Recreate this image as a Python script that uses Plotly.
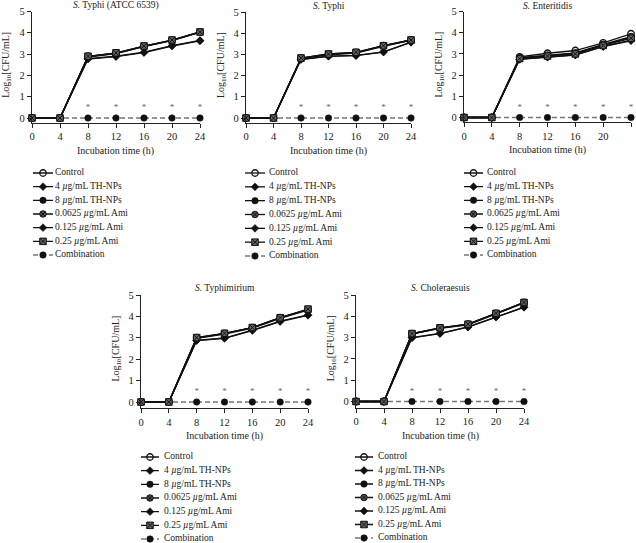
import plotly.graph_objects as go

W, H = 636, 543
FONT = "Liberation Serif"

# ---------------- data ----------------
times = [0, 4, 8, 12, 16, 20, 24]
sig_times = [8, 12, 16, 20, 24]
y_ticks = [0, 1, 2, 3, 4, 5]

series_names = [
    "Control",
    "4 <i>µ</i>g/mL TH-NPs",
    "8 <i>µ</i>g/mL TH-NPs",
    "0.0625 <i>µ</i>g/mL Ami",
    "0.125 <i>µ</i>g/mL Ami",
    "0.25 <i>µ</i>g/mL Ami",
    "Combination",
]

panel_titles = [
    "<i>S.</i> Typhi (ATCC 6539)",
    "<i>S.</i> Typhi",
    "<i>S.</i> Enteritidis",
    "<i>S.</i> Typhimirium",
    "<i>S.</i> Choleraesuis",
]

# order of each list: Control, 4 TH-NPs, 8 TH-NPs, 0.0625 Ami, 0.125 Ami, 0.25 Ami, Combination
typhi_atcc = [
    [0, 0, 2.90, 3.05, 3.38, 3.66, 4.04],
    [0, 0, 2.77, 2.88, 3.07, 3.38, 3.62],
    [0, 0, 2.86, 3.02, 3.35, 3.63, 4.02],
    [0, 0, 2.88, 3.04, 3.36, 3.64, 4.03],
    [0, 0, 2.79, 2.90, 3.09, 3.40, 3.64],
    [0, 0, 2.90, 3.06, 3.38, 3.66, 4.04],
    [0, 0, 0, 0, 0, 0, 0],
]
typhi = [
    [0, 0, 2.83, 3.02, 3.10, 3.41, 3.68],
    [0, 0, 2.76, 2.91, 2.94, 3.11, 3.57],
    [0, 0, 2.80, 2.98, 3.06, 3.38, 3.66],
    [0, 0, 2.82, 3.00, 3.08, 3.40, 3.67],
    [0, 0, 2.77, 2.92, 2.95, 3.12, 3.58],
    [0, 0, 2.83, 3.02, 3.10, 3.41, 3.68],
    [0, 0, 0, 0, 0, 0, 0],
]
enteritidis = [
    [0, 0, 2.86, 3.03, 3.16, 3.52, 3.95],
    [0, 0, 2.74, 2.84, 2.94, 3.34, 3.62],
    [0, 0, 2.80, 2.92, 3.02, 3.42, 3.78],
    [0, 0, 2.82, 2.95, 3.05, 3.45, 3.82],
    [0, 0, 2.75, 2.86, 2.96, 3.36, 3.65],
    [0, 0, 2.78, 2.90, 3.00, 3.40, 3.74],
    [0, 0, 0, 0, 0, 0, 0],
]
typhimirium = [
    [0, 0, 3.01, 3.21, 3.48, 3.94, 4.33],
    [0, 0, 2.87, 2.97, 3.34, 3.76, 4.05],
    [0, 0, 2.97, 3.17, 3.45, 3.91, 4.30],
    [0, 0, 2.99, 3.19, 3.47, 3.93, 4.32],
    [0, 0, 2.88, 2.99, 3.36, 3.78, 4.07],
    [0, 0, 3.01, 3.21, 3.48, 3.94, 4.34],
    [0, 0, 0, 0, 0, 0, 0],
]
choleraesuis = [
    [0, 0, 3.19, 3.46, 3.63, 4.14, 4.65],
    [0, 0, 2.99, 3.19, 3.49, 3.96, 4.42],
    [0, 0, 3.16, 3.43, 3.60, 4.11, 4.62],
    [0, 0, 3.18, 3.45, 3.62, 4.13, 4.64],
    [0, 0, 3.00, 3.20, 3.50, 3.97, 4.43],
    [0, 0, 3.19, 3.46, 3.63, 4.14, 4.65],
    [0, 0, 0, 0, 0, 0, 0],
]
panels_data = [typhi_atcc, typhi, enteritidis, typhimirium, choleraesuis]

# ---------------- styles ----------------
marker_styles = [
    dict(symbol="circle-open", size=6.5, color="#111", line=dict(width=1.3, color="#111")),
    dict(symbol="diamond", size=6, color="#111", line=dict(width=0.5, color="#111")),
    dict(symbol="circle", size=6.5, color="#111", line=dict(width=0.5, color="#111")),
    dict(symbol="circle-x", size=6.5, color="#555", line=dict(width=1, color="#111")),
    dict(symbol="diamond", size=6, color="#111", line=dict(width=0.5, color="#111")),
    dict(symbol="square-x", size=6.5, color="#666", line=dict(width=1, color="#111")),
    dict(symbol="circle", size=6.5, color="#111", line=dict(width=0.5, color="#111")),
]
line_styles = [dict(color="#111", width=1.3)] * 6 + [dict(color="#777", width=1.5, dash="5px,3px")]

# pixel geometry of each panel: x of t=0, x of t=24, y of 0, y of 5, y of x-axis line
geo = [
    (32, 200, 118, 11.5, 122.5),
    (246, 411, 118, 12, 122.5),
    (464, 631, 117.5, 11.5, 122),
    (141, 308, 402, 295, 408),
    (356, 524, 401.5, 295, 407.5),
]
# legend geometry: first row y, last row y, symbol x start, symbol x end, text x
leg_geo = [
    (173, 255, 33, 53, 58),
    (173, 256, 245, 265, 272),
    (173, 255, 464, 483, 490),
    (457, 539, 141, 159, 167),
    (457, 538, 355, 373, 381),
]

fig = go.Figure()
layout = dict(
    template="none",
    width=W, height=H, margin=dict(l=0, r=0, t=0, b=0, autoexpand=False),
    paper_bgcolor="white", plot_bgcolor="white", showlegend=False,
    font=dict(family=FONT, size=10, color="#222"),
)
annotations = []

def px(x):
    return min(max(x / W, 0.0), 1.0)

def py(y):
    return min(max(1 - y / H, 0.0), 1.0)

for p in range(5):
    x0, x24, y0, y5, yl = geo[p]
    unit = (y0 - y5) / 5.0
    ax = p + 1
    sfx = "" if ax == 1 else str(ax)
    layout["xaxis" + sfx] = dict(
        domain=[px(x0), px(x24)], range=[0, 24], anchor="y" + sfx, automargin=False,
        tickvals=times, ticks="outside", ticklen=4, tickwidth=1, tickcolor="#222",
        showline=True, linecolor="#222", linewidth=1.2, showgrid=False, zeroline=False,
        tickfont=dict(family=FONT, size=10.5, color="#222"),
    )
    layout["yaxis" + sfx] = dict(
        domain=[py(yl), py(y5)], range=[-(yl - y0) / unit, 5], anchor="x" + sfx,
        automargin=False,
        tickvals=y_ticks, ticks="outside", ticklen=4, tickwidth=1, tickcolor="#222",
        showline=True, linecolor="#222", linewidth=1.2, showgrid=False, zeroline=False,
        tickfont=dict(family=FONT, size=10.5, color="#222"),
    )
    # data
    order = [6, 0, 1, 2, 3, 4, 5]
    for s in order:
        fig.add_trace(go.Scatter(
            x=times, y=panels_data[p][s], mode="lines+markers",
            line=line_styles[s], marker=marker_styles[s],
            xaxis="x" + sfx, yaxis="y" + sfx, cliponaxis=False, name=series_names[s],
        ))
    # significance asterisks
    fig.add_trace(go.Scatter(
        x=sig_times, y=[0.47] * len(sig_times), mode="text", text=["*"] * len(sig_times),
        textfont=dict(family=FONT, size=9, color="#666"),
        xaxis="x" + sfx, yaxis="y" + sfx, cliponaxis=False, hoverinfo="skip",
    ))
    # titles
    top_title_y = 6 if p < 3 else 288
    annotations.append(dict(
        text=panel_titles[p], x=px((x0 + x24) / 2), y=py(top_title_y),
        xref="paper", yref="paper", showarrow=False, xanchor="center", yanchor="middle",
        font=dict(family=FONT, size=9.5, color="#222"),
    ))
    annotations.append(dict(
        text="Log<sub>10</sub>[CFU/mL]", x=px(x0 - 25), y=py((y0 + y5) / 2),
        xref="paper", yref="paper", showarrow=False, textangle=-90,
        xanchor="center", yanchor="middle",
        font=dict(family=FONT, size=10, color="#222"),
    ))
    annotations.append(dict(
        text="Incubation time (h)", x=px((x0 + x24) / 2), y=py(yl + 28),
        xref="paper", yref="paper", showarrow=False, xanchor="center", yanchor="middle",
        font=dict(family=FONT, size=10, color="#222"),
    ))

    # custom legend
    r0, r6, sx0, sx1, tx = leg_geo[p]
    u = (r6 - r0) / 6.0
    lx = p + 6
    lsfx = str(lx)
    ytop = r0 - u / 2
    ybot = min(r6 + u / 2, H - 0.5)
    layout["xaxis" + lsfx] = dict(domain=[px(sx0), px(sx0 + 130)], range=[0, 130],
                                 anchor="y" + lsfx, visible=False, automargin=False)
    layout["yaxis" + lsfx] = dict(domain=[py(ybot), py(ytop)],
                                 range=[(ybot - r0) / u, (ytop - r0) / u],
                                 anchor="x" + lsfx, visible=False, automargin=False)
    seg = sx1 - sx0
    for k in range(7):
        fig.add_trace(go.Scatter(
            x=[0, seg], y=[k, k], mode="lines", line=line_styles[k],
            xaxis="x" + lsfx, yaxis="y" + lsfx, cliponaxis=False, hoverinfo="skip",
        ))
        fig.add_trace(go.Scatter(
            x=[seg / 2], y=[k], mode="markers", marker=marker_styles[k],
            xaxis="x" + lsfx, yaxis="y" + lsfx, cliponaxis=False, hoverinfo="skip",
        ))
    fig.add_trace(go.Scatter(
        x=[tx - sx0 - 3] * 7, y=list(range(7)), mode="text", text=series_names,
        textposition="middle right", textfont=dict(family=FONT, size=9.5, color="#222"),
        xaxis="x" + lsfx, yaxis="y" + lsfx, cliponaxis=False, hoverinfo="skip",
    ))

layout["annotations"] = annotations
fig.update_layout(**layout)
fig.write_html(
    "out.html",
    config={"displayModeBar": False},
    post_script="document.body.style.margin='0px';document.body.style.overflow='hidden';",
)
